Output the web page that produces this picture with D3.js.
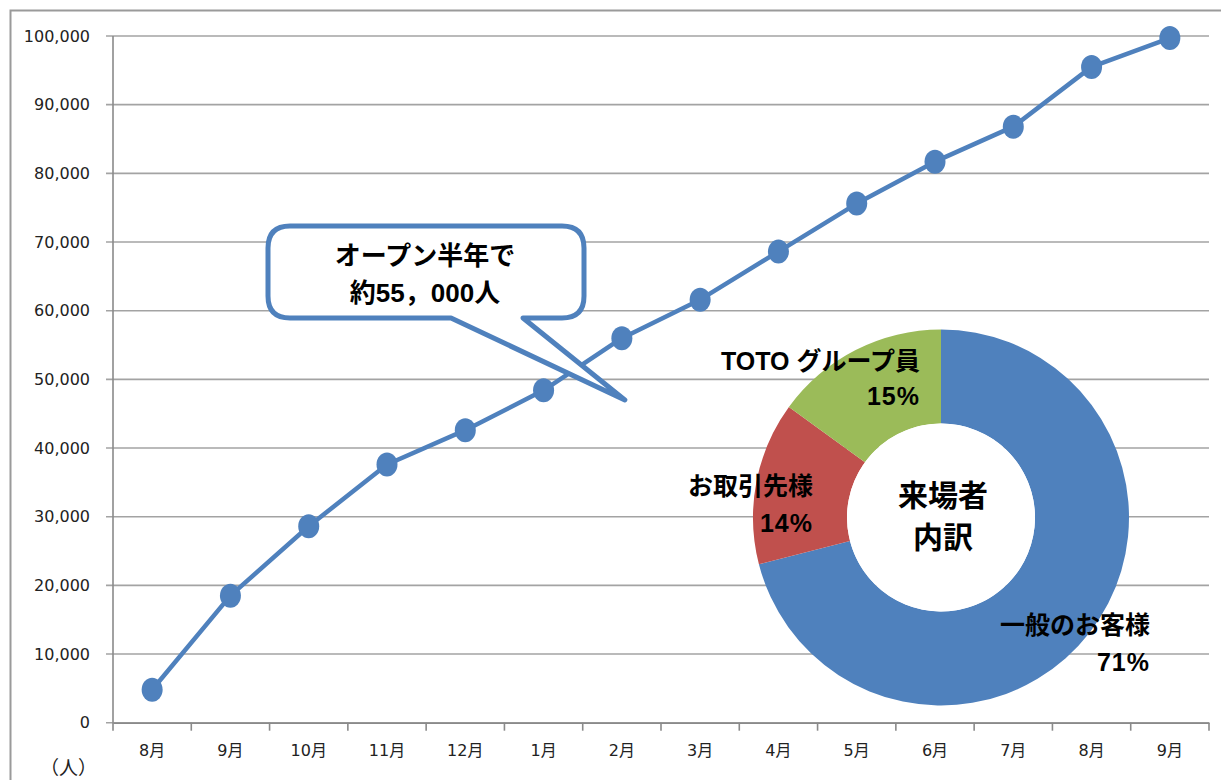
<!DOCTYPE html>
<html>
<head>
<meta charset="utf-8">
<script src="https://cdn.jsdelivr.net/npm/d3@7"></script>
<style>
  body { margin: 0; background: #fff; }
  svg { display: block; }
</style>
</head>
<body>
<div id="chart"></div>
<script>
var svgW = 1221;
var svgH = 780;

// monthly cumulative visitors
var months = ["8月", "9月", "10月", "11月", "12月", "1月", "2月", "3月", "4月", "5月", "6月", "7月", "8月", "9月"];
var visitors = [4800, 18500, 28600, 37600, 42600, 48400, 56000, 61600, 68600, 75600, 81700, 86800, 95500, 99700];
var yTicks = [0, 10000, 20000, 30000, 40000, 50000, 60000, 70000, 80000, 90000, 100000];

// visitor breakdown (donut)
var shareNames = ["一般のお客様", "お取引先様", "TOTO グループ員"];
var shareValues = [71, 14, 15];
var shareColors = ["#4f81bd", "#c0504d", "#9bbb59"];

var calloutLines = ["オープン半年で", "約55，000人"];
var calloutValue = 47000; // where the callout tail points

var margin = { left: 113, right: 12, top: 36, bottom: 57.3 };
var chartW = svgW - margin.left - margin.right;
var chartH = svgH - margin.top - margin.bottom;

var svg = d3.select("#chart")
    .append("svg")
    .attr("width", svgW)
    .attr("height", svgH);

var latin = "'DejaVu Sans', 'Noto Sans CJK JP', sans-serif";
var jp = "'Noto Sans CJK JP', sans-serif";
var jpBold = "'Liberation Sans', 'Noto Sans CJK JP', sans-serif";

// outer frame
svg.append("path")
    .attr("d", "M10.5," + svgH + "V10.5H" + svgW)
    .attr("fill", "none")
    .attr("stroke", "#9a9a9a")
    .attr("stroke-width", 2);

var g = svg.append("g")
    .attr("transform", `translate(${margin.left}, ${margin.top})`);

var xScale = d3.scaleBand()
    .domain(d3.range(months.length))
    .range([0, chartW]);

var yScale = d3.scaleLinear()
    .domain([0, 100000])
    .range([chartH, 0]);

// gridlines + y labels
var yAxis = d3.axisLeft(yScale)
    .tickValues(yTicks)
    .tickSize(0)
    .tickPadding(23)
    .tickFormat(d3.format(","));

g.append("g")
    .attr("class", "grid")
    .selectAll("line")
    .data(yTicks)
    .enter()
    .append("line")
    .attr("x1", -7)
    .attr("x2", chartW)
    .attr("y1", d => yScale(d))
    .attr("y2", d => yScale(d))
    .attr("stroke", "#a3a3a3")
    .attr("stroke-width", 1.6);

var yG = g.append("g").call(yAxis);
yG.select(".domain").remove();
yG.selectAll("text")
    .attr("font-family", latin)
    .attr("font-size", 16)
    .attr("fill", "#222");

g.append("line")
    .attr("x1", 0).attr("x2", 0)
    .attr("y1", 0).attr("y2", chartH)
    .attr("stroke", "#8a8a8a")
    .attr("stroke-width", 1.6);

// x axis with ticks at band edges
var xAxis = d3.axisBottom(xScale)
    .tickSize(0)
    .tickPadding(22)
    .tickFormat(i => months[i]);

var xG = g.append("g")
    .attr("transform", `translate(0, ${chartH})`)
    .call(xAxis);
xG.select(".domain")
    .attr("stroke", "#8a8a8a")
    .attr("stroke-width", 1.6);
xG.selectAll("text")
    .attr("font-family", latin)
    .attr("font-size", 16)
    .attr("fill", "#222");

xG.selectAll(".edge")
    .data(d3.range(months.length + 1))
    .enter()
    .append("line")
    .attr("class", "edge")
    .attr("x1", i => i * xScale.step())
    .attr("x2", i => i * xScale.step())
    .attr("y1", 0)
    .attr("y2", 8)
    .attr("stroke", "#8a8a8a")
    .attr("stroke-width", 1.6);

svg.append("text")
    .attr("x", 40)
    .attr("y", 775)
    .attr("font-family", jp)
    .attr("font-size", 19)
    .attr("fill", "#222")
    .text("（人）");

// line series
var cx = i => xScale(i) + xScale.bandwidth() / 2;

var line = d3.line()
    .x((d, i) => cx(i))
    .y(d => yScale(d));

g.append("path")
    .datum(visitors)
    .attr("d", line)
    .attr("fill", "none")
    .attr("stroke", "#4f81bd")
    .attr("stroke-width", 4.5)
    .attr("stroke-linejoin", "round");

g.selectAll(".marker")
    .data(visitors)
    .enter()
    .append("ellipse")
    .attr("class", "marker")
    .attr("cx", (d, i) => cx(i))
    .attr("cy", d => yScale(d))
    .attr("rx", 10.5)
    .attr("ry", 12)
    .attr("fill", "#4f81bd");

// callout bubble
var tipX = cx(6) + 3;
var tipY = yScale(calloutValue);
var bx0 = 268 - margin.left, bx1 = 584 - margin.left;
var by0 = 226 - margin.top, by1 = 318 - margin.top;
var r = 22;
var t0 = 451 - margin.left, t1 = 523 - margin.left;
var bubble = d3.path();
bubble.moveTo(bx0 + r, by0);
bubble.lineTo(bx1 - r, by0);
bubble.quadraticCurveTo(bx1, by0, bx1, by0 + r);
bubble.lineTo(bx1, by1 - r);
bubble.quadraticCurveTo(bx1, by1, bx1 - r, by1);
bubble.lineTo(t1, by1);
bubble.lineTo(tipX, tipY);
bubble.lineTo(t0, by1);
bubble.lineTo(bx0 + r, by1);
bubble.quadraticCurveTo(bx0, by1, bx0, by1 - r);
bubble.lineTo(bx0, by0 + r);
bubble.quadraticCurveTo(bx0, by0, bx0 + r, by0);
bubble.closePath();

g.append("path")
    .attr("d", bubble.toString())
    .attr("fill", "#fff")
    .attr("stroke", "#4f81bd")
    .attr("stroke-width", 5)
    .attr("stroke-linejoin", "round");

g.selectAll(".callout")
    .data(calloutLines)
    .enter()
    .append("text")
    .attr("class", "callout")
    .attr("x", (bx0 + bx1) / 2 - 1)
    .attr("y", (d, i) => 265 - margin.top + i * 37)
    .attr("text-anchor", "middle")
    .attr("font-family", jpBold)
    .attr("font-weight", "bold")
    .attr("font-size", 26)
    .attr("fill", "#000")
    .text(d => d);

// donut
var dc = { x: 941, y: 517.5 };
var outerR = 188, innerR = 94;

var pie = d3.pie().sort(null).value(d => d);
var arc = d3.arc().innerRadius(innerR).outerRadius(outerR);

var donut = svg.append("g")
    .attr("transform", `translate(${dc.x}, ${dc.y})`);

donut.selectAll("path")
    .data(pie(shareValues))
    .enter()
    .append("path")
    .attr("d", arc)
    .attr("fill", (d, i) => shareColors[i]);

donut.append("circle")
    .attr("r", innerR)
    .attr("fill", "#fff");

donut.selectAll(".center")
    .data(["来場者", "内訳"])
    .enter()
    .append("text")
    .attr("class", "center")
    .attr("x", 2)
    .attr("y", (d, i) => -12 + i * 42)
    .attr("text-anchor", "middle")
    .attr("font-family", jp)
    .attr("font-weight", "bold")
    .attr("font-size", 30)
    .attr("fill", "#000")
    .text(d => d);

// labels, right aligned: [x, name baseline, pct baseline] relative to centre
var labelPos = [[209, 116, 153], [-128, -23, 14], [-21, -148, -113]];

shareNames.forEach(function (name, i) {
    var p = labelPos[i];
    donut.append("text")
        .attr("x", p[0])
        .attr("y", p[1])
        .attr("text-anchor", "end")
        .attr("font-family", jpBold)
        .attr("font-weight", "bold")
        .attr("font-size", 25)
        .attr("fill", "#000")
        .text(name);
    donut.append("text")
        .attr("x", p[0])
        .attr("y", p[2])
        .attr("text-anchor", "end")
        .attr("font-family", jpBold)
        .attr("font-weight", "bold")
        .attr("font-size", 25)
        .attr("letter-spacing", 1)
        .attr("fill", "#000")
        .text(shareValues[i] + "%");
});
</script>
</body>
</html>
